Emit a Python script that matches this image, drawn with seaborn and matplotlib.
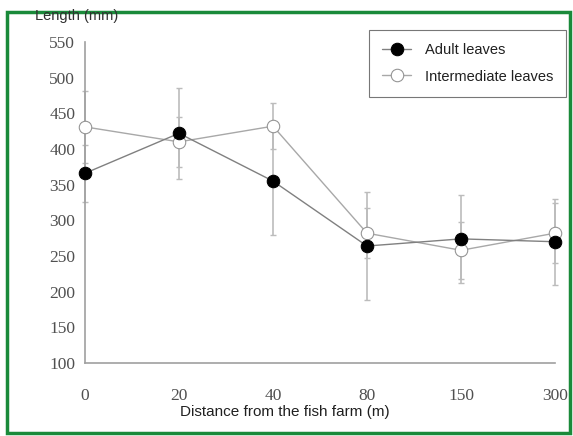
import matplotlib
matplotlib.use("Agg")
import matplotlib.pyplot as plt
import seaborn as sns
import pandas as pd
from matplotlib.patches import Rectangle

# distances are plotted as evenly spaced categories
distances = ["0", "20", "40", "80", "150", "300"]
adult_mean = [366, 422, 355, 264, 274, 270]
adult_err = [40, 64, 76, 76, 62, 60]
inter_mean = [431, 410, 432, 282, 258, 282]
inter_err = [50, 35, 32, 35, 40, 42]
y_ticks = [100, 150, 200, 250, 300, 350, 400, 450, 500, 550]

df = pd.DataFrame({
    "pos": list(range(len(distances))) * 2,
    "length": adult_mean + inter_mean,
    "err": adult_err + inter_err,
    "leaf": ["Adult leaves"] * len(distances) + ["Intermediate leaves"] * len(distances),
})

sns.set_style("white")
fig = plt.figure(figsize=(5.73, 4.36), dpi=100)
ax = fig.add_axes([85 / 573, 1 - 363 / 436, 470 / 573, 321 / 436])

styles = {
    "Adult leaves": dict(color="#808080", markerfacecolor="black", markeredgecolor="black", zorder=4),
    "Intermediate leaves": dict(color="#a8a8a8", markerfacecolor="white", markeredgecolor="#909090", zorder=3),
}

for leaf, st in styles.items():
    sub = df[df["leaf"] == leaf]
    ax.errorbar(sub["pos"], sub["length"], yerr=sub["err"], fmt="none",
                ecolor="#bcbcbc", elinewidth=1.2, capsize=2.5, capthick=1.0,
                zorder=2, clip_on=False)
    sns.lineplot(data=sub, x="pos", y="length", ax=ax, marker="o", markersize=9,
                 linewidth=1.0, errorbar=None, label=leaf, clip_on=False, **st)

ax.set_xlim(0, len(distances) - 1)
ax.set_ylim(100, 550)
ax.set_xticks(range(len(distances)))
ax.set_xticklabels(distances)
ax.set_yticks(y_ticks)
ax.set_xlabel("Distance from the fish farm (m)", fontsize=11, family="Liberation Sans",
              color="#202020")
ax.xaxis.set_label_coords((285 - 85) / 470, -0.13)
ax.set_ylabel("")

for side in ["top", "right"]:
    ax.spines[side].set_visible(False)
for side in ["left", "bottom"]:
    ax.spines[side].set_color("#a0a0a0")
    ax.spines[side].set_linewidth(1.2)
ax.tick_params(direction="inout", length=6, width=1, color="#a0a0a0",
               labelsize=12.5, labelcolor="#505050")
ax.tick_params(axis="x", pad=15)
ax.tick_params(axis="y", pad=4)
for lbl in ax.get_xticklabels() + ax.get_yticklabels():
    lbl.set_family("Liberation Serif")

leg = ax.legend(loc="upper right", bbox_to_anchor=(566 / 573, 1 - 30 / 436),
                bbox_transform=fig.transFigure, frameon=True, fancybox=False,
                borderaxespad=0, prop={"family": "Liberation Sans", "size": 10.5},
                borderpad=0.9, labelspacing=0.85, handlelength=2.0, handletextpad=0.9)
leg.get_frame().set_edgecolor("#555555")
leg.get_frame().set_linewidth(0.8)
for t in leg.get_texts():
    t.set_color("#202020")

fig.text(35 / 573, 1 - 16 / 436, "Length (mm)", fontsize=10.5, family="Liberation Sans",
         color="#303030", va="center", ha="left")

# green frame around the figure
fig.patches.append(Rectangle((7 / 573, 3 / 436), 563 / 573, 421 / 436,
                             transform=fig.transFigure, fill=False,
                             edgecolor="#1a8a3a", linewidth=2.5))

fig.savefig("out.png", dpi=100)
